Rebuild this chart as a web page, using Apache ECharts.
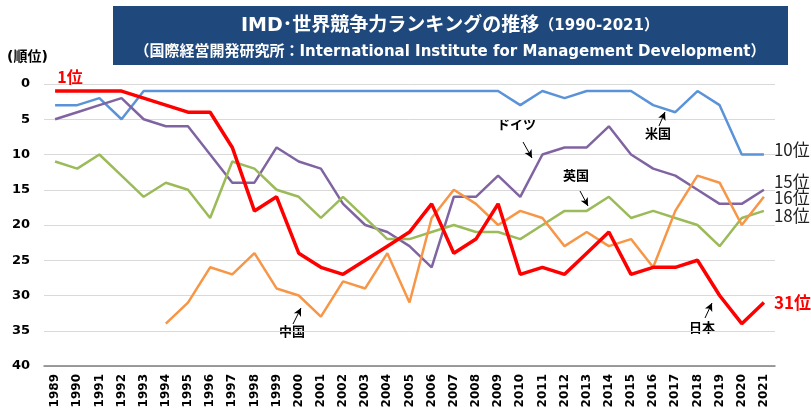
<!DOCTYPE html>
<html>
<head>
<meta charset="utf-8">
<script src="https://cdn.jsdelivr.net/npm/echarts@6/dist/echarts.min.js"></script>
<style>
    html, body { margin: 0; padding: 0; background: #fff; }
    #echartRank { width: 811px; height: 412px; }
</style>
</head>
<body>
<div id="echartRank"></div>
<script>
// IMD ranking per year (lower is better)
const years = ['1989', '1990', '1991', '1992', '1993', '1994', '1995', '1996', '1997', '1998',
    '1999', '2000', '2001', '2002', '2003', '2004', '2005', '2006', '2007', '2008',
    '2009', '2010', '2011', '2012', '2013', '2014', '2015', '2016', '2017', '2018',
    '2019', '2020', '2021'];
const usa = [3, 3, 2, 5, 1, 1, 1, 1, 1, 1, 1, 1, 1, 1, 1, 1, 1, 1, 1, 1, 1, 3, 1, 2, 1, 1, 1, 3, 4, 1, 3, 10, 10];
const germany = [5, 4, 3, 2, 5, 6, 6, 10, 14, 14, 9, 11, 12, 17, 20, 21, 23, 26, 16, 16, 13, 16, 10, 9, 9, 6, 10, 12, 13, 15, 17, 17, 15];
const uk = [11, 12, 10, 13, 16, 14, 15, 19, 11, 12, 15, 16, 19, 16, 19, 22, 22, 21, 20, 21, 21, 22, 20, 18, 18, 16, 19, 18, 19, 20, 23, 19, 18];
const china = [null, null, null, null, null, 34, 31, 26, 27, 24, 29, 30, 33, 28, 29, 24, 31, 19, 15, 17, 20, 18, 19, 23, 21, 23, 22, 26, 18, 13, 14, 20, 16];
const japan = [1, 1, 1, 1, 2, 3, 4, 4, 9, 18, 16, 24, 26, 27, 25, 23, 21, 17, 24, 22, 17, 27, 26, 27, 24, 21, 27, 26, 26, 25, 30, 34, 31];
const yTicks = [0, 40, 5]; // min, max, step

const jpFont = '"DejaVu Sans", "Noto Sans CJK JP", sans-serif';

function endLabel(text, dy, color, bold) {
    return {
        show: true,
        formatter: text,
        distance: 10,
        offset: [0, dy],
        color: color || '#222',
        fontSize: 17,
        fontWeight: bold ? 'bold' : 'normal',
        fontFamily: '"Noto Sans CJK JP", sans-serif'
    };
}

function arrow(x1, y1, x2, y2) {
    return [{ x: x1, y: y1 }, { x: x2, y: y2 }];
}

function note(text, x, y) {
    return {
        type: 'text', left: x, top: y, silent: true,
        style: { text: text, fill: '#000', font: 'bold 13px ' + jpFont }
    };
}

let chartElem = document.getElementById('echartRank');
let chart = echarts.init(chartElem);
chart.setOption({
    animation: false,
    grid: { left: 44, right: 36, top: 84, bottom: 46 },
    xAxis: {
        type: 'category',
        data: years,
        boundaryGap: true,
        axisLine: { onZero: false, lineStyle: { color: '#7f7f7f', width: 1.5 } },
        axisTick: { show: false },
        axisLabel: {
            rotate: 90, interval: 0, margin: 8,
            color: '#000', fontWeight: 'bold', fontSize: 12,
            fontFamily: '"DejaVu Sans", sans-serif'
        }
    },
    yAxis: {
        type: 'value',
        inverse: true,
        min: yTicks[0], max: yTicks[1], interval: yTicks[2],
        axisLine: { show: false },
        axisTick: { show: false },
        splitLine: { lineStyle: { color: '#d9d9d9', width: 1 } },
        axisLabel: {
            margin: 14, color: '#000', fontWeight: 'bold', fontSize: 13,
            fontFamily: '"DejaVu Sans", sans-serif'
        }
    },
    series: [{
        name: '米国', type: 'line', data: usa, symbol: 'none',
        lineStyle: { color: '#5b93d8', width: 2.5 },
        endLabel: endLabel('10位', -5),
        markLine: {
            silent: true, symbol: ['none', 'arrow'], symbolSize: [6, 8],
            label: { show: false },
            lineStyle: { color: '#000', width: 1, type: 'solid' },
            data: [
                arrow(523, 142, 532, 158),
                arrow(659, 126, 665, 112),
                arrow(580, 191, 588, 206),
                arrow(293, 324, 301, 308),
                arrow(705, 318, 712, 303)
            ]
        }
    }, {
        name: 'ドイツ', type: 'line', data: germany, symbol: 'none',
        lineStyle: { color: '#8064a2', width: 2.5 },
        endLabel: endLabel('15位', -8)
    }, {
        name: '英国', type: 'line', data: uk, symbol: 'none',
        lineStyle: { color: '#9bbb59', width: 2.5 },
        endLabel: endLabel('18位', 5)
    }, {
        name: '中国', type: 'line', data: china, symbol: 'none',
        lineStyle: { color: '#f79646', width: 2.5 },
        endLabel: endLabel('16位', 1)
    }, {
        name: '日本', type: 'line', data: japan, symbol: 'none',
        lineStyle: { color: '#ff0000', width: 3.5 },
        endLabel: endLabel('31位', 0, '#ff0000', true),
        markPoint: {
            silent: true, symbol: 'circle', symbolSize: 0,
            data: [{ coord: [years[0], japan[0]] }],
            label: {
                show: true, formatter: '1位', position: 'top', distance: 6, offset: [15, 0],
                color: '#ff0000', fontWeight: 'bold', fontSize: 16,
                fontFamily: '"Noto Sans CJK JP", sans-serif'
            }
        }
    }],
    graphic: [{
        type: 'rect', left: 113, top: 6, silent: true,
        shape: { width: 675, height: 59 },
        style: { fill: '#1f497d' }
    }, {
        type: 'text', x: 450, y: 17, silent: true,
        style: {
            text: '{a|IMD･世界競争力ランキングの推移}{b|（1990-2021）}',
            align: 'center',
            rich: {
                a: { fill: '#fff', font: 'bold 19px ' + jpFont },
                b: { fill: '#fff', font: 'bold 15px ' + jpFont }
            }
        }
    }, {
        type: 'text', x: 450, y: 45, silent: true,
        style: {
            text: '（国際経営開発研究所：International Institute for Management Development）',
            align: 'center',
            fill: '#fff', font: 'bold 15px ' + jpFont
        }
    }, {
        type: 'text', left: 7, top: 50, silent: true,
        style: { text: '(順位)', fill: '#000', font: 'bold 14px ' + jpFont }
    },
    note('ドイツ', 497, 119),
    note('米国', 645, 128),
    note('英国', 563, 170),
    note('中国', 279, 326),
    note('日本', 689, 322)
    ]
});
</script>
</body>
</html>
